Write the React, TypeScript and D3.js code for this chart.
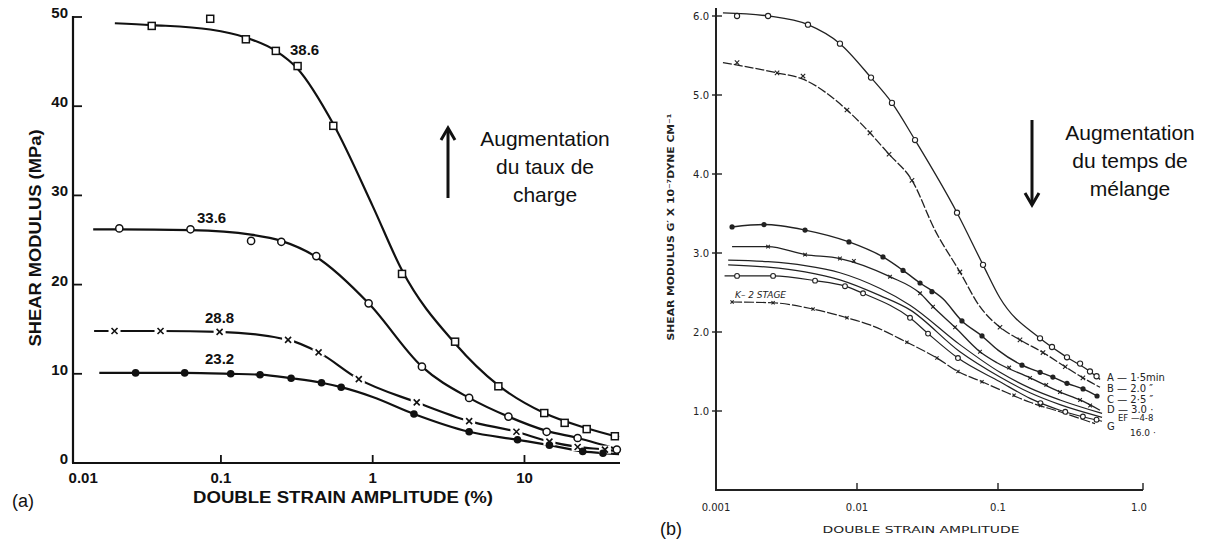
import React from 'react';
import * as d3 from 'd3';

type P = [number, number];

// ---------- Panel (a) ----------
const xTicksA = [0.01, 0.1, 1, 10];
const xTickLabelsA = ['0.01', '0.1', '1', '10'];
const yTicksA = [0, 10, 20, 30, 40, 50];
const curveLabelsA = ['38.6', '33.6', '28.8', '23.2'];

const line386: P[] = [[0.02, 49.3], [0.035, 49.1], [0.085, 48.6], [0.146, 47.7], [0.23, 46.2], [0.32, 44.2], [0.55, 38.0], [1.0, 28.8], [1.56, 21.6], [3.49, 13.4], [6.73, 8.7], [13.5, 5.6], [25.7, 3.9], [42, 2.9]];
const mark386: P[] = [[0.035, 49.0], [0.085, 49.8], [0.146, 47.5], [0.23, 46.2], [0.32, 44.5], [0.55, 37.8], [1.56, 21.2], [3.49, 13.6], [6.73, 8.6], [13.5, 5.6], [18.4, 4.5], [25.7, 3.8], [39.4, 3.0]];

const line336: P[] = [[0.0144, 26.2], [0.021, 26.2], [0.063, 26.1], [0.158, 25.6], [0.25, 24.9], [0.425, 23.1], [0.94, 17.9], [2.11, 10.8], [4.32, 7.3], [7.84, 5.2], [14, 3.6], [22.4, 2.8], [42, 1.5]];
const mark336: P[] = [[0.0214, 26.3], [0.063, 26.2], [0.158, 24.9], [0.25, 24.8], [0.425, 23.2], [0.94, 17.9], [2.11, 10.8], [4.32, 7.3], [7.84, 5.2], [14, 3.5], [22.4, 2.8], [40.6, 1.5]];

const line288: P[] = [[0.0146, 14.8], [0.0199, 14.8], [0.04, 14.8], [0.098, 14.7], [0.277, 13.8], [0.44, 12.4], [0.81, 9.4], [1.95, 6.8], [4.32, 4.7], [8.85, 3.5], [14.6, 2.4], [22.4, 1.8], [33.9, 1.5], [42, 1.3]];
const mark288: P[] = [[0.0199, 14.8], [0.04, 14.8], [0.098, 14.7], [0.277, 13.8], [0.44, 12.4], [0.81, 9.4], [1.95, 6.8], [4.32, 4.7], [8.85, 3.5], [14.6, 2.4], [22.4, 1.8], [33.9, 1.5]];

const line232: P[] = [[0.0158, 10.1], [0.0274, 10.1], [0.0577, 10.1], [0.116, 10.0], [0.181, 9.9], [0.29, 9.5], [0.46, 9.0], [0.62, 8.5], [1.0, 7.4], [1.87, 5.5], [4.32, 3.5], [9.0, 2.6], [14.6, 2.0], [24.2, 1.3], [32.9, 1.1], [42, 1.0]];
const mark232: P[] = [[0.0274, 10.1], [0.0577, 10.1], [0.116, 10.0], [0.181, 9.9], [0.29, 9.5], [0.46, 9.0], [0.62, 8.5], [1.87, 5.5], [4.32, 3.5], [9.0, 2.6], [14.6, 2.0], [24.2, 1.3], [32.9, 1.1]];

// ---------- Panel (b) ----------
const xTicksB = [0.001, 0.01, 0.1, 1];
const xTickLabelsB = ['0.001', '0.01', '0.1', '1.0'];
const yTicksB = [1, 2, 3, 4, 5, 6];
const yTickLabelsB = ['1.0', '2.0', '3.0', '4.0', '5.0', '6.0'];
const legendB = ['A — 1·5min', 'B — 2.0 ″', 'C — 2·5 ″', 'D — 3.0 ·', 'EF —4-8', 'G', '16.0 ·'];

const lineA: P[] = [[0.00112, 6.04], [0.00234, 6.0], [0.00449, 5.89], [0.00757, 5.65], [0.01257, 5.22], [0.0177, 4.9], [0.0258, 4.43], [0.0512, 3.51], [0.0783, 2.85], [0.1033, 2.43], [0.1986, 1.92], [0.3085, 1.68], [0.449, 1.5], [0.529, 1.4]];
const markA: P[] = [[0.00141, 6.0], [0.00234, 6.0], [0.00449, 5.89], [0.00757, 5.65], [0.01257, 5.22], [0.0177, 4.9], [0.0258, 4.43], [0.0512, 3.51], [0.0783, 2.85], [0.1986, 1.92], [0.2415, 1.81], [0.3085, 1.68], [0.382, 1.6], [0.449, 1.5], [0.5, 1.44]];

const lineB: P[] = [[0.00112, 5.41], [0.00271, 5.28], [0.00414, 5.2], [0.00849, 4.81], [0.01236, 4.52], [0.01687, 4.25], [0.02455, 3.92], [0.0357, 3.29], [0.0537, 2.76], [0.0745, 2.32], [0.1033, 2.06], [0.1432, 1.9], [0.2085, 1.74], [0.3, 1.56], [0.4, 1.42], [0.529, 1.3]];
const markB: P[] = [[0.00141, 5.41], [0.00271, 5.28], [0.00414, 5.24], [0.00849, 4.81], [0.01236, 4.52], [0.01687, 4.25], [0.02455, 3.92], [0.0537, 2.76], [0.1033, 2.06], [0.1432, 1.9], [0.2085, 1.74], [0.3, 1.56], [0.4, 1.42]];

const lineC: P[] = [[0.0013, 3.33], [0.00219, 3.36], [0.00428, 3.29], [0.00877, 3.14], [0.01528, 2.95], [0.0212, 2.78], [0.028, 2.62], [0.0407, 2.42], [0.0555, 2.14], [0.077, 1.95], [0.1, 1.77], [0.148, 1.58], [0.199, 1.49], [0.245, 1.43], [0.3085, 1.35], [0.401, 1.28], [0.504, 1.19]];
const markC: P[] = [[0.0013, 3.33], [0.00219, 3.36], [0.00428, 3.29], [0.00877, 3.14], [0.01528, 2.95], [0.0212, 2.78], [0.028, 2.62], [0.034, 2.51], [0.0555, 2.14], [0.077, 1.95], [0.148, 1.58], [0.199, 1.49], [0.245, 1.43], [0.3085, 1.35], [0.401, 1.28], [0.504, 1.19]];

const lineD: P[] = [[0.0013, 3.08], [0.00234, 3.08], [0.00428, 2.98], [0.00757, 2.93], [0.01714, 2.7], [0.028, 2.49], [0.0346, 2.32], [0.0496, 2.06], [0.0745, 1.75], [0.0984, 1.61], [0.1687, 1.42], [0.275, 1.24], [0.382, 1.14], [0.529, 1.01]];
const markD: P[] = [[0.00234, 3.08], [0.00428, 2.98], [0.00757, 2.93], [0.0095, 2.9], [0.01714, 2.7], [0.028, 2.49], [0.0346, 2.32], [0.0496, 2.06], [0.0745, 1.75], [0.12, 1.55], [0.1687, 1.42], [0.22, 1.33], [0.275, 1.24], [0.382, 1.14], [0.45, 1.07]];

const lineE: P[] = [[0.00122, 2.91], [0.00234, 2.89], [0.00428, 2.84], [0.00757, 2.75], [0.0146, 2.55], [0.02377, 2.34], [0.0537, 1.84], [0.1033, 1.49], [0.1687, 1.29], [0.275, 1.14], [0.547, 0.97]];
const lineF: P[] = [[0.00122, 2.85], [0.00234, 2.82], [0.00428, 2.76], [0.00757, 2.66], [0.0146, 2.46], [0.02377, 2.28], [0.0537, 1.75], [0.1033, 1.43], [0.1687, 1.23], [0.275, 1.08], [0.547, 0.92]];
const lineG: P[] = [[0.00115, 2.71], [0.00254, 2.71], [0.00504, 2.65], [0.00822, 2.58], [0.01104, 2.49], [0.02377, 2.18], [0.0319, 1.98], [0.052, 1.67], [0.1033, 1.37], [0.1687, 1.16], [0.275, 1.01], [0.547, 0.87]];
const markG: P[] = [[0.00141, 2.71], [0.00254, 2.71], [0.00504, 2.65], [0.00822, 2.58], [0.01104, 2.49], [0.02377, 2.18], [0.0319, 1.98], [0.052, 1.67], [0.2, 1.1], [0.3, 0.99], [0.4, 0.93], [0.5, 0.89]];

const lineK: P[] = [[0.0013, 2.38], [0.00254, 2.37], [0.00488, 2.29], [0.00849, 2.18], [0.01236, 2.09], [0.0226, 1.87], [0.0369, 1.67], [0.052, 1.5], [0.077, 1.37], [0.1033, 1.27], [0.1687, 1.11], [0.275, 0.99], [0.4875, 0.84]];
const markK: P[] = [[0.0013, 2.38], [0.00254, 2.37], [0.00488, 2.29], [0.00849, 2.18], [0.0226, 1.87], [0.0369, 1.67], [0.052, 1.5], [0.077, 1.37], [0.13, 1.2], [0.2, 1.07]];

const W = 1212;
const H = 540;

export default function App() {
  // scales panel (a)
  const xL = d3.scaleLog().domain([0.0106, 42.6]).range([73, 620]);
  const yL = d3.scaleLinear().domain([0, 50]).range([463, 17]);
  // scales panel (b)
  const xR = d3.scaleLog().domain([0.001, 1]).range([716, 1139]);
  const yR = d3.scaleLinear().domain([0, 6]).range([490, 16]);

  const genL = d3.line<P>().x(d => xL(d[0])).y(d => yL(d[1])).curve(d3.curveMonotoneX);
  const genR = d3.line<P>().x(d => xR(d[0])).y(d => yR(d[1])).curve(d3.curveMonotoneX);

  const fontA = "'Liberation Sans', Arial, sans-serif";
  const fontB = "'DejaVu Sans', 'Liberation Sans', sans-serif";
  const ink = '#111';
  const inkB = '#222';

  const crossA = (x: number, y: number, s: number, key: string) => (
    <g key={key}>
      <rect x={x - 6} y={y - 4} width={12} height={8} fill="#fff" />
      <path d={`M${x - s},${y - s}L${x + s},${y + s}M${x - s},${y + s}L${x + s},${y - s}`} stroke={ink} strokeWidth={1.6} />
    </g>
  );
  const crossB = (x: number, y: number, s: number, key: string) => (
    <path key={key} d={`M${x - s},${y - s}L${x + s},${y + s}M${x - s},${y + s}L${x + s},${y - s}`} stroke={inkB} strokeWidth={1.1} />
  );

  const labelA = [
    { t: curveLabelsA[0], x: 290, y: 55 },
    { t: curveLabelsA[1], x: 197, y: 223 },
    { t: curveLabelsA[2], x: 205, y: 323 },
    { t: curveLabelsA[3], x: 205, y: 364 },
  ];

  const legendPos = [
    { x: 1107, y: 381, fs: 10 },
    { x: 1107, y: 392, fs: 10 },
    { x: 1107, y: 403, fs: 10 },
    { x: 1107, y: 413, fs: 10 },
    { x: 1118, y: 421, fs: 8.5 },
    { x: 1107, y: 430, fs: 10 },
    { x: 1130, y: 436, fs: 9 },
  ];

  return (
    <svg width={W} height={H} style={{ position: 'absolute', left: 0, top: 0, background: '#fff' }} xmlns="http://www.w3.org/2000/svg">
      <rect x={0} y={0} width={W} height={H} fill="#fff" />

      {/* ================= Panel (a) ================= */}
      <g fontFamily={fontA} fill={ink}>
        {/* axes */}
        <line x1={73} y1={yL(50) - 1} x2={73} y2={yL(0)} stroke={ink} strokeWidth={2.2} />
        <line x1={72} y1={yL(0)} x2={620} y2={yL(0)} stroke={ink} strokeWidth={2.2} />
        {yTicksA.map(t => (
          <g key={'ya' + t}>
            <line x1={73} x2={82} y1={yL(t)} y2={yL(t)} stroke={ink} strokeWidth={1.8} />
            <text x={68} y={yL(t) + 1} textAnchor="end" fontSize={15} fontWeight="bold">{t}</text>
          </g>
        ))}
        {xTicksA.map((t, i) => (
          <g key={'xa' + t}>
            {i > 0 && <line x1={xL(t)} x2={xL(t)} y1={yL(0)} y2={yL(0) - 8} stroke={ink} strokeWidth={1.8} />}
            <text x={i === 0 ? xL(t) + 14 : xL(t)} y={483} textAnchor="middle" fontSize={15} fontWeight="bold">{xTickLabelsA[i]}</text>
          </g>
        ))}
        <text x={343} y={503} textAnchor="middle" fontSize={16.5} fontWeight="bold" textLength={300} lengthAdjust="spacingAndGlyphs">DOUBLE STRAIN AMPLITUDE (%)</text>
        <text transform="translate(41,238) rotate(-90)" textAnchor="middle" fontSize={16} fontWeight="bold" textLength={217} lengthAdjust="spacingAndGlyphs">SHEAR MODULUS (MPa)</text>
        <text x={12} y={507} fontSize={18}>(a)</text>

        {/* curves */}
        <path d={genL(line386) || ''} fill="none" stroke={ink} strokeWidth={2.2} />
        <path d={genL(line336) || ''} fill="none" stroke={ink} strokeWidth={2.2} />
        <path d={genL(line288) || ''} fill="none" stroke={ink} strokeWidth={2.2} />
        <path d={genL(line232) || ''} fill="none" stroke={ink} strokeWidth={2.2} />

        {mark386.map((d, i) => (
          <rect key={'m386' + i} x={xL(d[0]) - 3.5} y={yL(d[1]) - 3.5} width={7} height={7} fill="#fff" stroke={ink} strokeWidth={1.5} />
        ))}
        {mark336.map((d, i) => (
          <circle key={'m336' + i} cx={xL(d[0])} cy={yL(d[1])} r={3.6} fill="#fff" stroke={ink} strokeWidth={1.5} />
        ))}
        {mark288.map((d, i) => crossA(xL(d[0]), yL(d[1]), 3, 'm288' + i))}
        {mark232.map((d, i) => (
          <circle key={'m232' + i} cx={xL(d[0])} cy={yL(d[1])} r={3.8} fill={ink} />
        ))}

        {labelA.map(l => (
          <text key={l.t} x={l.x} y={l.y} fontSize={15} fontWeight="bold">{l.t}</text>
        ))}

        {/* annotation */}
        <line x1={448} y1={198} x2={448} y2={129} stroke={ink} strokeWidth={3} />
        <path d="M441,140 L448,128 L455,140" fill="none" stroke={ink} strokeWidth={3} />
        <g fontSize={21} textAnchor="middle" fill="#111">
          <text x={545} y={146}>Augmentation</text>
          <text x={545} y={174}>du taux de</text>
          <text x={545} y={202}>charge</text>
        </g>
      </g>

      {/* ================= Panel (b) ================= */}
      <g fontFamily={fontB} fill={inkB}>
        <line x1={716} y1={8} x2={716} y2={yR(0) + 1} stroke={inkB} strokeWidth={2} />
        <line x1={715} y1={yR(0)} x2={1143} y2={yR(0)} stroke={inkB} strokeWidth={2.2} />
        {yTicksB.map((t, i) => (
          <g key={'yb' + t}>
            <line x1={712} x2={722} y1={yR(t)} y2={yR(t)} stroke={inkB} strokeWidth={1.4} />
            <text x={709} y={yR(t) + 3.5} textAnchor="end" fontSize={10}>{yTickLabelsB[i]}</text>
          </g>
        ))}
        {xTicksB.map((t, i) => (
          <g key={'xb' + t}>
            {i > 0 && <line x1={xR(t) + (i === 3 ? 4 : 0)} x2={xR(t) + (i === 3 ? 4 : 0)} y1={yR(0)} y2={yR(0) - 7} stroke={inkB} strokeWidth={1.4} />}
            <text x={xR(t)} y={511} textAnchor="middle" fontSize={10}>{xTickLabelsB[i]}</text>
          </g>
        ))}
        <text x={921} y={533} textAnchor="middle" fontSize={8.5} textLength={197} lengthAdjust="spacingAndGlyphs">DOUBLE  STRAIN  AMPLITUDE</text>
        <text transform="translate(674,227) rotate(-90)" textAnchor="middle" fontSize={9} fontWeight="bold" textLength={227} lengthAdjust="spacingAndGlyphs">SHEAR  MODULUS  G′  X  10⁻⁷DYNE  CM⁻¹</text>
        <text x={660} y={535} fontSize={18} fill="#111" fontFamily={fontA}>(b)</text>

        {/* curves */}
        <path d={genR(lineA) || ''} fill="none" stroke={inkB} strokeWidth={1.3} />
        <path d={genR(lineB) || ''} fill="none" stroke={inkB} strokeWidth={1.3} strokeDasharray="9,2" />
        <path d={genR(lineC) || ''} fill="none" stroke={inkB} strokeWidth={1.4} />
        <path d={genR(lineD) || ''} fill="none" stroke={inkB} strokeWidth={1.3} />
        <path d={genR(lineE) || ''} fill="none" stroke={inkB} strokeWidth={1.2} />
        <path d={genR(lineF) || ''} fill="none" stroke={inkB} strokeWidth={1.2} />
        <path d={genR(lineG) || ''} fill="none" stroke={inkB} strokeWidth={1.2} />
        <path d={genR(lineK) || ''} fill="none" stroke={inkB} strokeWidth={1.2} strokeDasharray="10,2" />

        {markA.map((d, i) => (
          <circle key={'mA' + i} cx={xR(d[0])} cy={yR(d[1])} r={2.6} fill="#fff" stroke={inkB} strokeWidth={1.1} />
        ))}
        {markB.map((d, i) => crossB(xR(d[0]), yR(d[1]), 2.2, 'mB' + i))}
        {markC.map((d, i) => (
          <circle key={'mC' + i} cx={xR(d[0])} cy={yR(d[1])} r={2.6} fill={inkB} />
        ))}
        {markD.map((d, i) => crossB(xR(d[0]), yR(d[1]), 1.8, 'mD' + i))}
        {markG.map((d, i) => (
          <circle key={'mG' + i} cx={xR(d[0])} cy={yR(d[1])} r={2.4} fill="#fff" stroke={inkB} strokeWidth={1.1} />
        ))}
        {markK.map((d, i) => crossB(xR(d[0]), yR(d[1]), 1.6, 'mK' + i))}

        <text x={735} y={298} fontSize={9} fontStyle="italic">K– 2 STAGE</text>

        {legendB.map((t, i) => (
          <text key={t} x={legendPos[i].x} y={legendPos[i].y} fontSize={legendPos[i].fs}>{t}</text>
        ))}

        {/* annotation */}
        <line x1={1032} y1={120} x2={1032} y2={204} stroke="#111" strokeWidth={3} />
        <path d="M1025,193 L1032,205 L1039,193" fill="none" stroke="#111" strokeWidth={3} />
        <g fontSize={21} textAnchor="middle" fill="#111" fontFamily={fontA}>
          <text x={1130} y={140}>Augmentation</text>
          <text x={1130} y={168}>du temps de</text>
          <text x={1130} y={196}>mélange</text>
        </g>
      </g>
    </svg>
  );
}
